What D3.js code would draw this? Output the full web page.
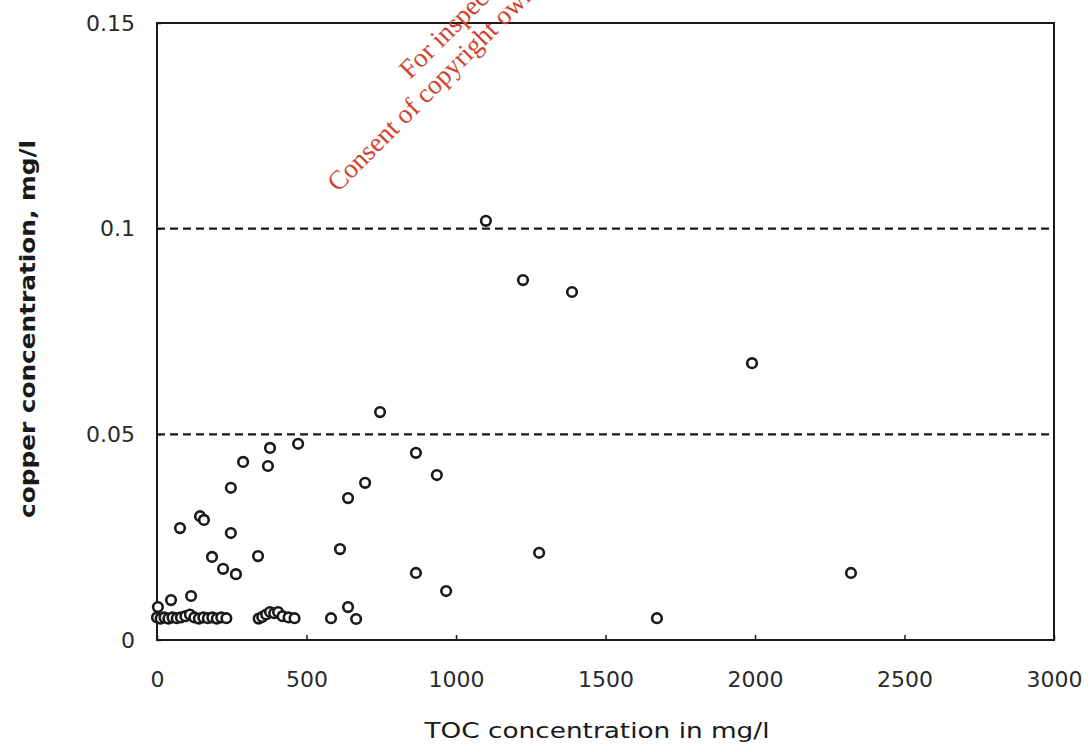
<!DOCTYPE html>
<html>
<head>
<meta charset="utf-8">
<script src="https://cdn.jsdelivr.net/npm/d3@7"></script>
<style>
  html, body { margin: 0; padding: 0; background: #fff; }
  svg { display: block; }
</style>
</head>
<body>
<div id="chart"></div>
<script>
// TOC vs copper scatter

// x: TOC concentration (mg/l), y: copper concentration (mg/l)
const tocValues = [
  3, 47, 77, 114, 144, 157, 184, 221, 247, 247, 264, 288, 338, 371, 378, 472,
  1100, 1224, 1388, 1990, 746, 866, 936, 696, 639, 612, 1278, 866, 967, 639,
  666, 582, 1672, 2321,
  // low cluster near the origin
  0, 12, 25, 38, 52, 66, 80, 95, 110, 125, 140, 155, 170, 185, 200, 215, 232,
  // second low cluster
  340, 352, 365, 378, 392, 405, 420, 440, 460
];
const copperValues = [
  0.0080, 0.0097, 0.0272, 0.0107, 0.0301, 0.0292, 0.0202, 0.0173, 0.0370, 0.0260,
  0.0160, 0.0433, 0.0204, 0.0423, 0.0467, 0.0477,
  0.1019, 0.0875, 0.0846, 0.0673, 0.0554, 0.0455, 0.0401, 0.0382, 0.0345, 0.0221,
  0.0212, 0.0163, 0.0119, 0.0080, 0.0051, 0.0053, 0.0053, 0.0163,
  0.0055, 0.0052, 0.0055, 0.0052, 0.0055, 0.0053, 0.0055, 0.0058, 0.0062, 0.0055,
  0.0052, 0.0055, 0.0053, 0.0055, 0.0052, 0.0055, 0.0053,
  0.0052, 0.0056, 0.0062, 0.0068, 0.0065, 0.0068, 0.0058, 0.0055, 0.0053
];

const xTicks = [0, 500, 1000, 1500, 2000, 2500, 3000];
const yTicks = [0, 0.05, 0.1, 0.15];
const yTickLabels = ["0", "0.05", "0.1", "0.15"];
const refLines = [0.05, 0.1];

const xTitle = "TOC concentration in mg/l";
const yTitle = "copper concentration, mg/l";
const watermark = [
  "For inspection purposes only.",
  "Consent of copyright owner required for any other use."
];

const width = 1092, height = 752;
const margin = { left: 157, right: 38, top: 23, bottom: 112 };

const svg = d3.select('#chart')
  .append('svg')
  .attr('width', width)
  .attr('height', height);

const x = d3.scaleLinear()
  .domain([0, 3000])
  .range([margin.left, width - margin.right]);

const y = d3.scaleLinear()
  .domain([0, 0.15])
  .range([height - margin.bottom, margin.top]);

const ink = '#1a1a1a';
const font = '"DejaVu Sans", Arial, sans-serif';

// Dashed reference lines
svg.append('g')
  .selectAll('line')
  .data(refLines)
  .join('line')
  .attr('x1', x(0))
  .attr('x2', x(3000))
  .attr('y1', d => y(d))
  .attr('y2', d => y(d))
  .attr('stroke', ink)
  .attr('stroke-width', 2.2)
  .attr('stroke-dasharray', '8,5');

// x axis, ticks pointing inwards
const xAxis = svg.append('g')
  .attr('transform', `translate(0,${y(0)})`)
  .call(d3.axisBottom(x).tickValues(xTicks).tickSize(-5).tickPadding(31).tickFormat(d3.format('d')));

// y axis
const yAxis = svg.append('g')
  .attr('transform', `translate(${x(0)},0)`)
  .call(d3.axisLeft(y).tickValues(yTicks).tickSize(-4).tickPadding(22)
    .tickFormat((d, i) => yTickLabels[i]));

[xAxis, yAxis].forEach(g => {
  g.select('.domain').remove();
  g.selectAll('.tick line').attr('stroke', ink).attr('stroke-width', 1.5);
  g.selectAll('.tick text')
    .attr('fill', '#2a2a2a')
    .style('font-family', font)
    .style('font-size', '22px');
});

// Plot frame
svg.append('rect')
  .attr('x', x(0))
  .attr('y', y(0.15))
  .attr('width', x(3000) - x(0))
  .attr('height', y(0) - y(0.15))
  .attr('fill', 'none')
  .attr('stroke', ink)
  .attr('stroke-width', 2);

// Points
const points = tocValues.map((v, i) => ({ toc: v, cu: copperValues[i] }));

svg.append('g')
  .selectAll('circle')
  .data(points)
  .join('circle')
  .attr('cx', d => x(d.toc))
  .attr('cy', d => y(d.cu))
  .attr('r', 4.8)
  .attr('fill', '#fff')
  .attr('stroke', ink)
  .attr('stroke-width', 2.6);

// Axis titles (the scan is stretched sideways, so glyphs are widened)
svg.append('text')
  .attr('x', 597)
  .attr('y', 738)
  .attr('text-anchor', 'middle')
  .attr('fill', ink)
  .attr('textLength', 345)
  .attr('lengthAdjust', 'spacingAndGlyphs')
  .style('font-family', font)
  .style('font-size', '21px')
  .text(xTitle);

svg.append('text')
  .attr('transform', `translate(35,${329}) rotate(-90)`)
  .attr('text-anchor', 'middle')
  .attr('fill', ink)
  .attr('textLength', 378)
  .attr('lengthAdjust', 'spacingAndGlyphs')
  .style('font-family', font)
  .style('font-size', '22px')
  .style('font-weight', 'bold')
  .text(yTitle);

// Red watermark, rotated; the reference crops it at the top edge
const wm = svg.append('g')
  .attr('fill', '#d2432c')
  .style('font-family', '"Liberation Serif", "Times New Roman", serif')
  .style('font-size', '27px');

wm.append('text')
  .attr('transform', 'translate(410,80) rotate(-45)')
  .text(watermark[0]);

wm.append('text')
  .attr('transform', 'translate(338,193) rotate(-45)')
  .text(watermark[1]);
</script>
</body>
</html>
